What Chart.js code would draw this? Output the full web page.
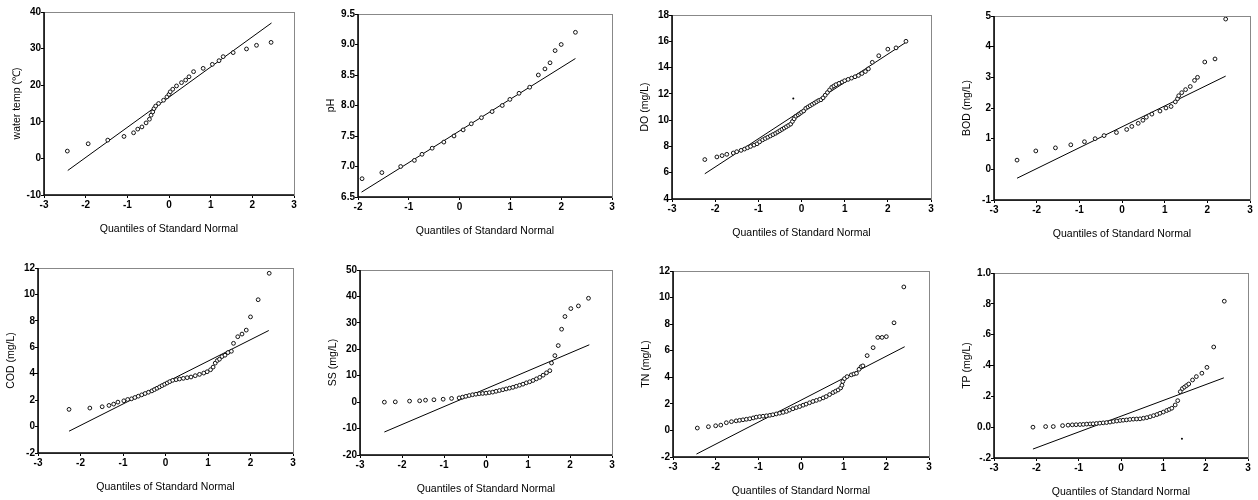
<!DOCTYPE html>
<html>
<head>
<meta charset="utf-8">
<script src="https://cdn.jsdelivr.net/npm/chart.js@4.4.1/dist/chart.umd.min.js"></script>
<style>
  body { margin: 0; background: #fff; }
  #wrap { position: relative; width: 1258px; height: 500px; overflow: hidden; }
  canvas { position: absolute; }
</style>
</head>
<body>
<div id="wrap"></div>
<script>

const tempQ = [-2.44, -1.94, -1.47, -1.08, -0.85, -0.75, -0.65, -0.55, -0.47, -0.43, -0.39, -0.36, -0.32, -0.25, -0.13, -0.05, 0.0, 0.03, 0.09, 0.18, 0.30, 0.40, 0.48, 0.59, 0.82, 1.04, 1.20, 1.30, 1.54, 1.86, 2.10, 2.45];
const tempVal = [2, 4, 5, 6, 7, 8, 8.6, 9.7, 10.7, 11.8, 12.7, 13.6, 14.3, 15, 15.9, 16.8, 17.5, 18.2, 18.9, 19.8, 20.7, 21.4, 22.3, 23.7, 24.6, 25.7, 26.7, 27.8, 28.9, 29.9, 30.9, 31.7];
const tempLineQ = [-2.43, 2.46];
const tempLineVal = [-3.3, 37];

const phQ = [-1.92, -1.53, -1.16, -0.89, -0.74, -0.54, -0.31, -0.11, 0.07, 0.23, 0.43, 0.64, 0.84, 0.99, 1.17, 1.38, 1.55, 1.68, 1.78, 1.88, 2.00, 2.28];
const phVal = [6.8, 6.9, 7.0, 7.1, 7.2, 7.3, 7.4, 7.5, 7.6, 7.7, 7.8, 7.9, 8.0, 8.1, 8.2, 8.3, 8.5, 8.6, 8.7, 8.9, 9.0, 9.2];
const phLineQ = [-1.93, 2.28];
const phLineVal = [6.58, 8.77];

const doQ = [-2.24, -1.96, -1.84, -1.73, -1.58, -1.50, -1.40, -1.32, -1.25, -1.18, -1.10, -1.03, -0.97, -0.90, -0.84, -0.78, -0.72, -0.66, -0.60, -0.55, -0.50, -0.45, -0.40, -0.35, -0.30, -0.25, -0.21, -0.17, -0.13, -0.08, -0.04, 0.00, 0.05, 0.10, 0.15, 0.20, 0.25, 0.30, 0.35, 0.40, 0.45, 0.50, 0.55, 0.60, 0.65, 0.70, 0.75, 0.80, 0.87, 0.94, 1.00, 1.08, 1.16, 1.24, 1.32, 1.40, 1.48, 1.55, 1.64, 1.79, 2.00, 2.19, 2.42];
const doVal = [7.0, 7.2, 7.3, 7.4, 7.5, 7.6, 7.7, 7.8, 7.9, 8.0, 8.1, 8.2, 8.35, 8.5, 8.6, 8.7, 8.8, 8.9, 9.0, 9.1, 9.2, 9.3, 9.4, 9.5, 9.6, 9.7, 9.9, 10.1, 10.3, 10.4, 10.5, 10.6, 10.7, 10.9, 11.0, 11.1, 11.2, 11.3, 11.4, 11.5, 11.55, 11.7, 11.9, 12.1, 12.3, 12.5, 12.6, 12.7, 12.8, 12.9, 13.0, 13.1, 13.2, 13.3, 13.4, 13.55, 13.7, 13.9, 14.4, 14.9, 15.4, 15.5, 16.0];
const doOutQ = [-0.19];
const doOutVal = [11.65];
const doLineQ = [-2.24, 2.41];
const doLineVal = [5.92, 15.9];

const bodQ = [-2.46, -2.02, -1.56, -1.20, -0.88, -0.63, -0.42, -0.13, 0.11, 0.23, 0.38, 0.49, 0.57, 0.70, 0.89, 1.03, 1.15, 1.25, 1.30, 1.33, 1.40, 1.49, 1.60, 1.70, 1.77, 1.94, 2.18, 2.43];
const bodVal = [0.3, 0.6, 0.7, 0.8, 0.9, 1.0, 1.1, 1.2, 1.3, 1.4, 1.5, 1.6, 1.7, 1.8, 1.9, 2.0, 2.05, 2.2, 2.3, 2.4, 2.5, 2.6, 2.7, 2.9, 3.0, 3.5, 3.6, 4.9];
const bodLineQ = [-2.46, 2.43];
const bodLineVal = [-0.29, 3.04];

const codQ = [-2.27, -1.78, -1.49, -1.33, -1.22, -1.12, -0.98, -0.89, -0.80, -0.72, -0.64, -0.56, -0.48, -0.40, -0.32, -0.26, -0.20, -0.14, -0.08, -0.02, 0.04, 0.10, 0.17, 0.25, 0.33, 0.42, 0.51, 0.60, 0.70, 0.80, 0.90, 0.98, 1.06, 1.12, 1.17, 1.22, 1.27, 1.33, 1.40, 1.47, 1.55, 1.60, 1.70, 1.80, 1.90, 2.00, 2.18, 2.44];
const codVal = [1.3, 1.4, 1.5, 1.6, 1.7, 1.85, 1.95, 2.05, 2.1, 2.2, 2.3, 2.4, 2.5, 2.6, 2.7, 2.8, 2.9, 3.0, 3.1, 3.2, 3.3, 3.4, 3.5, 3.55, 3.6, 3.65, 3.7, 3.75, 3.85, 3.95, 4.05, 4.15, 4.3, 4.5, 4.8, 5.0, 5.1, 5.3, 5.4, 5.6, 5.7, 6.3, 6.8, 7.0, 7.3, 8.3, 9.6, 11.6];
const codLineQ = [-2.27, 2.43];
const codLineVal = [-0.35, 7.27];

const ssQ = [-2.42, -2.16, -1.82, -1.58, -1.44, -1.24, -1.02, -0.82, -0.64, -0.56, -0.48, -0.40, -0.32, -0.24, -0.16, -0.08, 0.00, 0.08, 0.16, 0.24, 0.32, 0.40, 0.48, 0.56, 0.64, 0.72, 0.80, 0.88, 0.96, 1.04, 1.12, 1.20, 1.28, 1.36, 1.44, 1.52, 1.56, 1.64, 1.72, 1.80, 1.88, 2.02, 2.20, 2.44];
const ssVal = [0.0, 0.1, 0.4, 0.5, 0.75, 0.9, 1.1, 1.4, 1.6, 1.9, 2.2, 2.5, 2.8, 3.0, 3.2, 3.3, 3.4, 3.6, 3.8, 4.1, 4.4, 4.7, 5.0, 5.3, 5.6, 6.0, 6.4, 6.8, 7.3, 7.7, 8.2, 8.8, 9.4, 10.2, 11.1, 11.9, 14.8, 17.6, 21.4, 27.6, 32.4, 35.4, 36.4, 39.3];
const ssLineQ = [-2.42, 2.46];
const ssLineVal = [-11.3, 21.7];

const tnQ = [-2.43, -2.17, -2.00, -1.88, -1.75, -1.63, -1.52, -1.44, -1.36, -1.28, -1.20, -1.12, -1.05, -0.97, -0.89, -0.81, -0.73, -0.66, -0.58, -0.50, -0.42, -0.34, -0.27, -0.19, -0.11, -0.03, 0.05, 0.12, 0.20, 0.28, 0.36, 0.44, 0.52, 0.59, 0.67, 0.75, 0.81, 0.87, 0.93, 0.96, 0.98, 1.02, 1.08, 1.18, 1.24, 1.30, 1.36, 1.41, 1.45, 1.55, 1.69, 1.80, 1.90, 2.00, 2.18, 2.41];
const tnVal = [0.18, 0.28, 0.35, 0.40, 0.58, 0.66, 0.72, 0.76, 0.80, 0.84, 0.88, 0.94, 1.00, 1.04, 1.07, 1.10, 1.14, 1.18, 1.24, 1.30, 1.36, 1.43, 1.53, 1.63, 1.72, 1.80, 1.90, 1.98, 2.08, 2.18, 2.26, 2.35, 2.45, 2.55, 2.70, 2.85, 2.95, 3.05, 3.20, 3.40, 3.68, 3.90, 4.05, 4.18, 4.25, 4.30, 4.60, 4.80, 4.86, 5.63, 6.23, 7.00, 7.00, 7.06, 8.10, 10.80];
const tnLineQ = [-2.45, 2.43];
const tnLineVal = [-1.78, 6.3];

const tpQ = [-2.08, -1.78, -1.60, -1.38, -1.25, -1.15, -1.06, -0.97, -0.89, -0.81, -0.73, -0.66, -0.58, -0.50, -0.42, -0.34, -0.26, -0.18, -0.10, -0.02, 0.05, 0.13, 0.21, 0.29, 0.37, 0.45, 0.53, 0.61, 0.69, 0.77, 0.85, 0.92, 1.00, 1.08, 1.14, 1.20, 1.28, 1.34, 1.40, 1.45, 1.50, 1.55, 1.60, 1.69, 1.78, 1.91, 2.03, 2.19, 2.44];
const tpVal = [0.000, 0.004, 0.004, 0.010, 0.013, 0.015, 0.016, 0.017, 0.018, 0.020, 0.021, 0.022, 0.024, 0.026, 0.028, 0.030, 0.033, 0.037, 0.040, 0.043, 0.045, 0.047, 0.050, 0.052, 0.053, 0.054, 0.058, 0.062, 0.068, 0.075, 0.082, 0.090, 0.098, 0.108, 0.115, 0.123, 0.144, 0.172, 0.230, 0.250, 0.260, 0.270, 0.280, 0.306, 0.328, 0.350, 0.388, 0.520, 0.817];
const tpOutQ = [1.44];
const tpOutVal = [-0.075];
const tpLineQ = [-2.08, 2.43];
const tpLineVal = [-0.142, 0.32];

// rangos de los ejes: [min, max, paso]
const tempRange = [-10, 40, 10];
const phRange = [6.5, 9.5, 0.5];
const doRange = [4, 18, 2];
const bodRange = [-1, 5, 1];
const codRange = [-2, 12, 2];
const ssRange = [-20, 50, 10];
const tnRange = [-2, 12, 2];
const tpRange = [-0.2, 1.0, 0.2];
const qRangeFull = [-3, 3];
const qRangePh = [-2, 3];

const X_TITLE = 'Quantiles of Standard Normal';
const FONT = "'Liberation Sans', Arial, sans-serif";

const toPoints = (xs, ys) => xs.map((x, i) => ({ x: x, y: ys[i] }));

// recuadro completo del area del grafico
const framePlugin = {
    id: 'frame',
    afterDraw(chart) {
        const a = chart.chartArea;
        const ctx = chart.ctx;
        ctx.save();
        ctx.strokeStyle = '#888';
        ctx.lineWidth = 1;
        ctx.strokeRect(a.left + 0.5, a.top + 0.5, a.right - a.left, a.bottom - a.top);
        ctx.strokeStyle = '#000';
        ctx.lineWidth = 1.5;
        ctx.beginPath();
        ctx.moveTo(a.left, a.top);
        ctx.lineTo(a.left, a.bottom);
        ctx.lineTo(a.right, a.bottom);
        ctx.stroke();
        ctx.restore();
    }
};

const fmtTp = (v) => {
    const r = Math.round(v * 10) / 10;
    if (r === 0) return '0.0';
    if (r === 1) return '1.0';
    return (r < 0 ? '-' : '') + Math.abs(r).toFixed(1).replace(/^0/, '');
};

const panels = [
    { box: [44, 12, 294, 195], q: tempQ, v: tempVal, lq: tempLineQ, lv: tempLineVal, yr: tempRange, xr: qRangeFull, title: 'water temp (\u2103)' },
    { box: [358, 14, 612, 197], q: phQ, v: phVal, lq: phLineQ, lv: phLineVal, yr: phRange, xr: qRangePh, title: 'pH', fmt: (v) => v.toFixed(1) },
    { box: [672, 15, 931, 199], q: doQ, v: doVal, lq: doLineQ, lv: doLineVal, yr: doRange, xr: qRangeFull, title: 'DO (mg/L)', oq: doOutQ, ov: doOutVal },
    { box: [994, 16, 1250, 200], q: bodQ, v: bodVal, lq: bodLineQ, lv: bodLineVal, yr: bodRange, xr: qRangeFull, title: 'BOD (mg/L)' },
    { box: [38, 268, 293, 453], q: codQ, v: codVal, lq: codLineQ, lv: codLineVal, yr: codRange, xr: qRangeFull, title: 'COD (mg/L)' },
    { box: [360, 270, 612, 455], q: ssQ, v: ssVal, lq: ssLineQ, lv: ssLineVal, yr: ssRange, xr: qRangeFull, title: 'SS (mg/L)' },
    { box: [673, 271, 929, 457], q: tnQ, v: tnVal, lq: tnLineQ, lv: tnLineVal, yr: tnRange, xr: qRangeFull, title: 'TN (mg/L)' },
    { box: [994, 273, 1248, 458], q: tpQ, v: tpVal, lq: tpLineQ, lv: tpLineVal, yr: tpRange, xr: qRangeFull, title: 'TP (mg/L)', fmt: fmtTp, oq: tpOutQ, ov: tpOutVal }
];

const L = 38, T = 8, R = 8, B = 44;
const wrap = document.getElementById('wrap');

panels.forEach((p) => {
    const [left, top, right, bottom] = p.box;
    const canvas = document.createElement('canvas');
    const w = right - left + L + R;
    const h = bottom - top + T + B;
    canvas.width = w;
    canvas.height = h;
    canvas.style.width = w + 'px';
    canvas.style.height = h + 'px';
    canvas.style.left = (left - L) + 'px';
    canvas.style.top = (top - T) + 'px';
    wrap.appendChild(canvas);

    const datasets = [
        {
            data: toPoints(p.q, p.v),
            pointStyle: 'circle',
            pointRadius: 1.9,
            borderColor: '#111',
            borderWidth: 1,
            backgroundColor: '#fff',
            showLine: false
        },
        {
            data: toPoints(p.lq, p.lv),
            showLine: true,
            pointRadius: 0,
            borderColor: '#000',
            borderWidth: 1
        }
    ];
    if (p.oq) {
        datasets.push({
            data: toPoints(p.oq, p.ov),
            pointRadius: 1,
            borderWidth: 0,
            backgroundColor: '#000',
            showLine: false
        });
    }

    new Chart(canvas, {
        type: 'scatter',
        data: { datasets: datasets },
        plugins: [framePlugin],
        options: {
            responsive: false,
            animation: false,
            devicePixelRatio: 1,
            layout: { autoPadding: false, padding: { top: T, right: R, left: 0, bottom: 0 } },
            plugins: { legend: { display: false }, tooltip: { enabled: false } },
            scales: {
                x: {
                    type: 'linear',
                    min: p.xr[0],
                    max: p.xr[1],
                    afterFit: (s) => { s.height = B; },
                    border: { display: false },
                    grid: { drawOnChartArea: false, drawTicks: true, tickLength: 3, color: '#000' },
                    ticks: {
                        stepSize: 1,
                        padding: 1,
                        color: '#000',
                        font: { family: FONT, size: 10, weight: 'bold' }
                    },
                    title: {
                        display: true,
                        text: X_TITLE,
                        color: '#000',
                        padding: { top: 0, bottom: 4 },
                        font: { family: FONT, size: 10.5 }
                    }
                },
                y: {
                    type: 'linear',
                    min: p.yr[0],
                    max: p.yr[1],
                    afterFit: (s) => { s.width = L; },
                    border: { display: false },
                    grid: { drawOnChartArea: false, drawTicks: true, tickLength: 3, color: '#000' },
                    ticks: {
                        stepSize: p.yr[2],
                        padding: 0,
                        color: '#000',
                        font: { family: FONT, size: 10, weight: 'bold' },
                        callback: p.fmt ? p.fmt : (v) => Math.round(v).toString()
                    },
                    title: {
                        display: true,
                        text: p.title,
                        color: '#000',
                        padding: { top: 5, bottom: 5 },
                        font: { family: FONT, size: 10.5 }
                    }
                }
            }
        }
    });
});
</script>
</body>
</html>
